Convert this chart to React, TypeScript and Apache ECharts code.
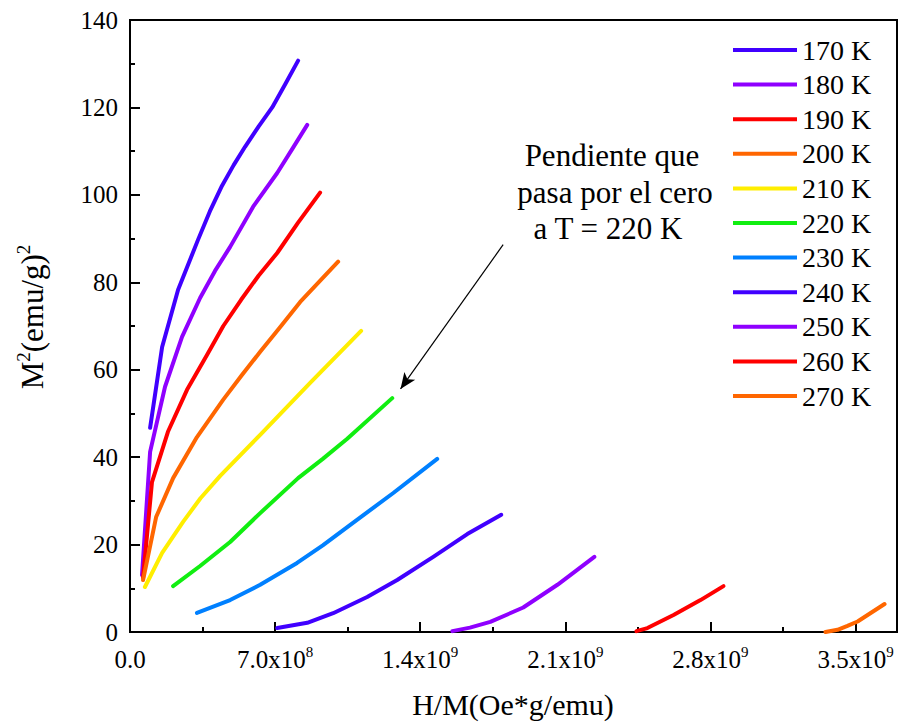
import React, { useEffect, useRef } from "react";
import * as echarts from "echarts";

// ---- Data (H/M in Oe*g/emu, M^2 in (emu/g)^2) ----
const temps = ["170 K", "180 K", "190 K", "200 K", "210 K", "220 K", "230 K", "240 K", "250 K", "260 K", "270 K"];

const x170 = [0.97e8, 1.55e8, 2.32e8, 3.28e8, 3.85e8, 4.44e8, 5.0e8, 5.55e8, 6.2e8, 6.86e8, 7.5e8, 8.11e8];
const y170 = [46.7, 65.2, 78.3, 89.7, 96.2, 102.1, 106.8, 111.0, 115.6, 120.0, 125.4, 130.7];

const x180 = [0.58e8, 0.97e8, 1.69e8, 2.51e8, 3.38e8, 4.1e8, 4.83e8, 5.94e8, 7.1e8, 7.8e8, 8.55e8];
const y180 = [13.0, 41.2, 56.1, 67.5, 76.4, 82.6, 88.1, 97.3, 105.0, 110.3, 116.0];

const x190 = [0.63e8, 1.06e8, 1.83e8, 2.75e8, 3.72e8, 4.5e8, 5.36e8, 6.2e8, 7.1e8, 8.1e8, 9.17e8];
const y190 = [12.4, 34.3, 45.8, 55.4, 63.4, 70.0, 76.0, 81.5, 86.7, 93.6, 100.5];

const x200 = [0.63e8, 1.26e8, 2.08e8, 3.23e8, 4.49e8, 5.4e8, 6.28e8, 7.2e8, 8.21e8, 10.04e8];
const y200 = [11.9, 26.3, 35.2, 44.6, 53.1, 58.8, 64.1, 69.5, 75.5, 84.7];

const x210 = [0.72e8, 1.55e8, 2.56e8, 3.4e8, 4.35e8, 6.28e8, 8.69e8, 11.15e8];
const y210 = [10.3, 18.1, 25.2, 30.6, 35.7, 45.1, 57.0, 68.9];

const x220 = [2.08e8, 3.38e8, 4.83e8, 6.28e8, 8.11e8, 9.3e8, 10.48e8, 12.65e8];
const y220 = [10.5, 15.1, 20.6, 27.2, 35.2, 39.6, 44.2, 53.5];

const x230 = [3.23e8, 4.83e8, 6.28e8, 8.06e8, 9.3e8, 10.48e8, 12.7e8, 14.82e8];
const y230 = [4.35, 7.3, 10.8, 15.8, 19.8, 24.0, 31.8, 39.6];

const x240 = [7.1e8, 8.55e8, 9.8e8, 11.44e8, 12.89e8, 14.63e8, 16.27e8, 17.91e8];
const y240 = [0.9, 2.1, 4.3, 8.0, 11.9, 17.2, 22.4, 26.8];

const x250 = [15.55e8, 16.4e8, 17.38e8, 18.97e8, 20.62e8, 22.4e8];
const y250 = [0.2, 1.0, 2.3, 5.6, 10.8, 17.2];

const x260 = [24.43e8, 24.96e8, 26.22e8, 27.52e8, 28.63e8];
const y260 = [0.2, 0.9, 3.9, 7.3, 10.5];

const x270 = [33.55e8, 34.13e8, 34.61e8, 35.1e8, 36.4e8];
const y270 = [0.0, 0.5, 1.4, 2.4, 6.4];

const xs = [x170, x180, x190, x200, x210, x220, x230, x240, x250, x260, x270];
const ys = [y170, y180, y190, y200, y210, y220, y230, y240, y250, y260, y270];

const colors = ["#4000FF", "#8F00FF", "#FF0000", "#FF6600", "#FFEE00", "#11EE11", "#0080FF", "#4000FF", "#8F00FF", "#FF0000", "#FF6600"];

// annotation arrow (data coordinates)
const arrowStart = [18.0e8, 88.6];
const arrowEnd = [13.05e8, 55.6];
const noteLines = ["Pendiente que", "pasa por el cero", "a T = 220 K"];

const X_MIN = 0;
const X_MAX = 3.7e9;
const X_MAJOR = 7e8;
const Y_MIN = 0;
const Y_MAX = 140;
const Y_MAJOR = 20;

const FONT = "'Liberation Serif', 'Times New Roman', serif";

function xLabel(v: number): string {
  if (v === 0) return "{b|0.0}";
  const r = v / X_MAJOR;
  if (Math.abs(r - Math.round(r)) > 1e-6) return "";
  const exp = Math.floor(Math.log10(v) + 1e-9);
  const mant = v / Math.pow(10, exp);
  return "{b|" + mant.toFixed(1) + "x10}{sup|" + exp + "}";
}

export default function App() {
  const ref = useRef<HTMLDivElement>(null);
  useEffect(() => {
    if (!ref.current) return;
    const chart = echarts.init(ref.current, null, { renderer: "svg" });

    const series: any[] = temps.map((name, i) => ({
      name,
      type: "line",
      data: xs[i].map((x, j) => [x, ys[i][j]]),
      showSymbol: false,
      symbol: "none",
      smooth: false,
      lineStyle: { color: colors[i], width: 4, cap: "round", join: "round" },
      itemStyle: { color: colors[i] },
      z: 3,
    }));
    // arrow annotation attached to 220 K series
    series[5].markLine = {
      silent: true,
      symbol: ["none", "arrow"],
      symbolSize: [10, 16],
      label: { show: false },
      lineStyle: { color: "#000", width: 1.2, type: "solid" },
      data: [[{ coord: arrowStart }, { coord: arrowEnd }]],
    };

    const option: any = {
      animation: false,
      backgroundColor: "#fff",
      grid: {
        left: 130,
        right: 1,
        top: 20,
        bottom: 90,
        show: true,
        borderColor: "#000",
        borderWidth: 2,
        backgroundColor: "transparent",
      },
      legend: {
        orient: "vertical",
        left: 733,
        top: 36,
        padding: 0,
        itemWidth: 64,
        itemHeight: 4,
        itemGap: 6.6,
        icon: "rect",
        data: temps,
        textStyle: { fontFamily: FONT, fontSize: 28, color: "#000" },
      },
      xAxis: [
        {
          type: "value",
          position: "bottom",
          min: X_MIN,
          max: X_MAX,
          interval: X_MAJOR,
          splitLine: { show: false },
          axisLine: { show: true, onZero: false, lineStyle: { color: "#000", width: 2 } },
          axisTick: { show: true, inside: true, length: 10, lineStyle: { color: "#000", width: 2 } },
          axisLabel: {
            show: true,
            margin: 12,
            formatter: xLabel,
            showMaxLabel: false,
            rich: {
              b: { fontFamily: FONT, fontSize: 25, color: "#000", lineHeight: 30 },
              sup: { fontFamily: FONT, fontSize: 15, color: "#000", lineHeight: 20, verticalAlign: "top" },
            },
          },
        },
        {
          type: "value",
          position: "bottom",
          min: X_MIN,
          max: X_MAX,
          interval: X_MAJOR / 2,
          splitLine: { show: false },
          axisLine: { show: false },
          axisTick: { show: true, inside: true, length: 5, lineStyle: { color: "#000", width: 2 } },
          axisLabel: { show: false },
        },
      ],
      yAxis: {
        type: "value",
        min: Y_MIN,
        max: Y_MAX,
        interval: Y_MAJOR,
        splitLine: { show: false },
        axisLine: { show: true, onZero: false, lineStyle: { color: "#000", width: 2 } },
        axisTick: { show: true, inside: true, length: 10, lineStyle: { color: "#000", width: 2 } },
        minorTick: { show: true, splitNumber: 2, length: 5, lineStyle: { color: "#000", width: 2 } },
        axisLabel: { margin: 12, fontFamily: FONT, fontSize: 25, color: "#000" },
      },
      graphic: [
        {
          type: "text",
          x: 513,
          y: 704,
          style: {
            text: "H/M(Oe*g/emu)",
            fontFamily: FONT,
            fontSize: 30,
            fill: "#000",
            align: "center",
            verticalAlign: "middle",
          },
        },
        {
          type: "text",
          x: 32,
          y: 317,
          rotation: Math.PI / 2,
          style: {
            text: "{b|M}{sup|2}{b|(emu/g)}{sup|2}",
            align: "center",
            verticalAlign: "middle",
            rich: {
              b: { fontFamily: FONT, fontSize: 31, fill: "#000", lineHeight: 36 },
              sup: { fontFamily: FONT, fontSize: 19, fill: "#000", lineHeight: 24, verticalAlign: "top" },
            },
          },
        },
        {
          type: "text",
          x: 612,
          y: 155,
          style: { text: noteLines[0], fontFamily: FONT, fontSize: 31, fill: "#000", align: "center", verticalAlign: "middle" },
        },
        {
          type: "text",
          x: 615,
          y: 192,
          style: { text: noteLines[1], fontFamily: FONT, fontSize: 31, fill: "#000", align: "center", verticalAlign: "middle" },
        },
        {
          type: "text",
          x: 608,
          y: 228,
          style: { text: noteLines[2], fontFamily: FONT, fontSize: 31, fill: "#000", align: "center", verticalAlign: "middle" },
        },
      ],
      series,
    };
    chart.setOption(option);
    return () => chart.dispose();
  }, []);
  return (
    <div
      ref={ref}
      style={{ position: "fixed", left: 0, top: 0, width: 898, height: 722, background: "#fff" }}
    />
  );
}
